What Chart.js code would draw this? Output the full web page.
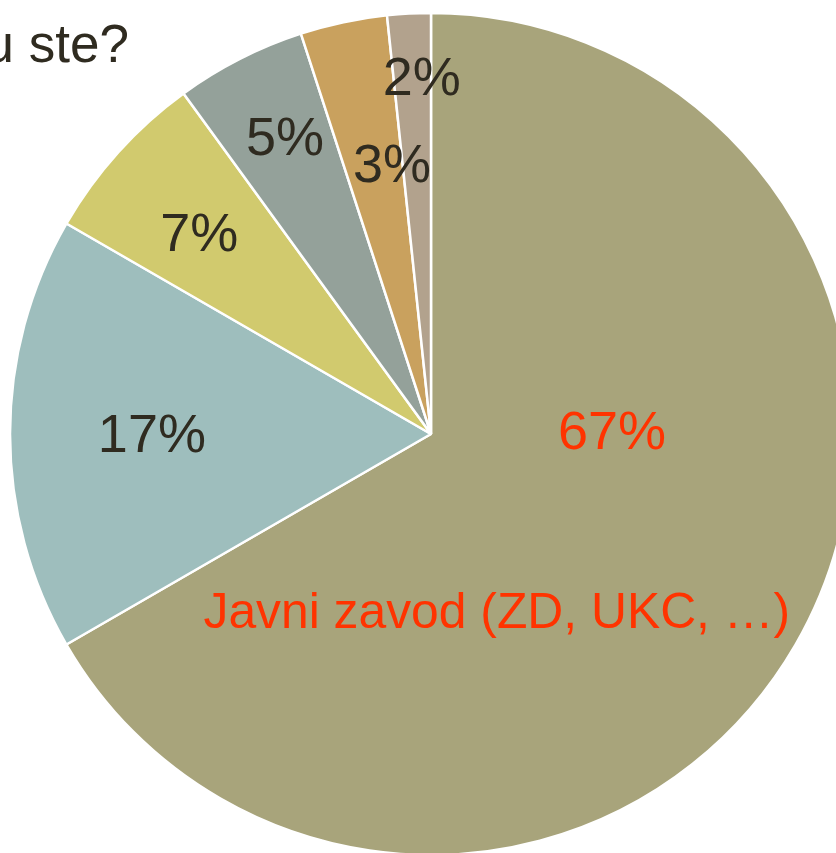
<!DOCTYPE html>
<html>
<head>
<meta charset="utf-8">
<script src="https://cdn.jsdelivr.net/npm/chart.js@4"></script>
<style>
  html, body { margin: 0; padding: 0; background: #fff; overflow: hidden; width: 836px; height: 853px; }
  #wrap { position: absolute; left: 0; top: 0; width: 862px; height: 868px; }
</style>
</head>
<body>
<div id="wrap"><canvas id="pieChart"></canvas></div>
<script>
// podatki
const titleText = 'u ste?';
const categories = ['Javni zavod (ZD, UKC, …)', '', '', '', '', ''];
const counts = [40, 10, 4, 3, 2, 1];
const sliceColors = ['#A8A47B', '#9EBEBD', '#D1CA6E', '#94A19A', '#C9A15E', '#B2A28D'];

// kje stojijo napisi (kot od vrha v stopinjah, delez polmera)
const pctPlace = [[90, 0.43], [269.4, 0.663], [310.5, 0.724], [333.6, 0.78], [351.7, 0.64], [358.5, 0.84]];
const namePlace = [159.9, 0.455];

const total = counts.reduce((a, b) => a + b, 0);

const labelPlugin = {
  id: 'labelPlugin',
  afterDatasetsDraw(chart) {
    const ctx = chart.ctx;
    const arcs = chart.getDatasetMeta(0).data;
    const cx = arcs[0].x, cy = arcs[0].y, r = arcs[0].outerRadius;
    const at = (deg, f) => {
      const a = deg * Math.PI / 180;
      return [cx + Math.sin(a) * r * f, cy - Math.cos(a) * r * f];
    };
    ctx.save();
    ctx.textAlign = 'center';
    ctx.textBaseline = 'middle';
    counts.forEach((v, i) => {
      const [x, y] = at(pctPlace[i][0], pctPlace[i][1]);
      ctx.font = '54px "Liberation Sans", Arial, sans-serif';
      ctx.fillStyle = i === 0 ? '#FF3300' : '#2F2B20';
      ctx.fillText(Math.round(v / total * 100) + '%', x, y);
    });
    const [nx, ny] = at(namePlace[0], namePlace[1]);
    ctx.font = '49.8px "Liberation Sans", Arial, sans-serif';
    ctx.fillStyle = '#FF3300';
    ctx.fillText(categories[0], nx, ny);

    // naslov (odrezan na levi)
    ctx.textAlign = 'right';
    ctx.textBaseline = 'alphabetic';
    ctx.font = '53px "Liberation Sans", Arial, sans-serif';
    ctx.fillStyle = '#2F2B20';
    ctx.fillText(titleText, 129, 62);
    ctx.restore();
  }
};

new Chart(document.getElementById('pieChart'), {
  type: 'pie',
  data: {
    labels: categories,
    datasets: [{
      data: counts,
      backgroundColor: sliceColors,
      borderColor: '#FFFFFF',
      borderWidth: 2.5
    }]
  },
  options: {
    responsive: true,
    maintainAspectRatio: false,
    animation: false,
    radius: 421,
    layout: { padding: 0 },
    plugins: {
      legend: { display: false },
      tooltip: { enabled: false },
      title: { display: false }
    }
  },
  plugins: [labelPlugin]
});
</script>
</body>
</html>
